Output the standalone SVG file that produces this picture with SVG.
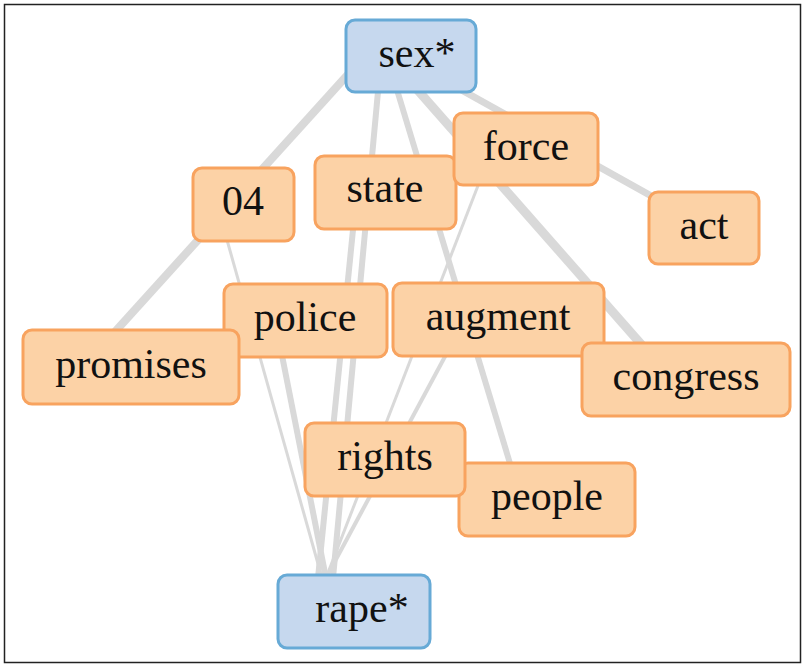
<svg xmlns="http://www.w3.org/2000/svg" width="803" height="665" viewBox="0 0 803 665">
<style>
.edge{stroke:#d9d9d9;stroke-linecap:butt;fill:none}
.n rect{stroke-width:3}
.o rect{fill:#fcd2a6;stroke:#f8a35f}
.b rect{fill:#c6d8ee;stroke:#67aad6}
.n text{font-family:"Liberation Serif","Times New Roman",serif;font-size:42px;fill:#111;text-anchor:middle}
</style>
<rect x="4.5" y="4.5" width="796" height="658" fill="#fff" stroke="#222" stroke-width="1.5"/>
<g id="connectors">
<line class="edge" x1="361" y1="60" x2="103" y2="345" stroke-width="8"/>
<line class="edge" x1="380" y1="70" x2="333" y2="578" stroke-width="6"/>
<line class="edge" x1="391" y1="70" x2="515" y2="480" stroke-width="6"/>
<line class="edge" x1="400" y1="70" x2="655" y2="360" stroke-width="9"/>
<line class="edge" x1="440" y1="78" x2="680" y2="212" stroke-width="7"/>
<line class="edge" x1="356" y1="200" x2="318" y2="578" stroke-width="6"/>
<line class="edge" x1="220" y1="215" x2="322" y2="578" stroke-width="3"/>
<line class="edge" x1="275" y1="320" x2="326" y2="578" stroke-width="6"/>
<line class="edge" x1="486" y1="165" x2="326" y2="578" stroke-width="3"/>
<line class="edge" x1="470" y1="310" x2="326" y2="578" stroke-width="4"/>
</g>
<g id="sex" class="n b"><rect x="346" y="20" width="130" height="72" rx="9"/><text x="417" y="67">sex*</text></g>
<g id="state" class="n o"><rect x="315" y="156" width="141" height="73" rx="9"/><text x="385" y="202">state</text></g>
<g id="force" class="n o"><rect x="454" y="113" width="144" height="72" rx="9"/><text x="526" y="160">force</text></g>
<g id="n04" class="n o"><rect x="193" y="168" width="101" height="73" rx="9"/><text x="243" y="215">04</text></g>
<g id="act" class="n o"><rect x="649" y="192" width="110" height="72" rx="9"/><text x="704" y="239">act</text></g>
<g id="police" class="n o"><rect x="224" y="284" width="163" height="73" rx="9"/><text x="305" y="331">police</text></g>
<g id="augment" class="n o"><rect x="393" y="283" width="211" height="73" rx="9"/><text x="498" y="330">augment</text></g>
<g id="promises" class="n o"><rect x="23" y="330" width="216" height="74" rx="9"/><text x="131" y="378">promises</text></g>
<g id="congress" class="n o"><rect x="582" y="343" width="208" height="73" rx="9"/><text x="686" y="390">congress</text></g>
<g id="people" class="n o"><rect x="459" y="463" width="176" height="73" rx="9"/><text x="547" y="510">people</text></g>
<g id="rights" class="n o"><rect x="305" y="423" width="160" height="73" rx="9"/><text x="385" y="470">rights</text></g>
<g id="rape" class="n b"><rect x="278" y="575" width="152" height="73" rx="9"/><text x="362" y="622">rape*</text></g>
</svg>
